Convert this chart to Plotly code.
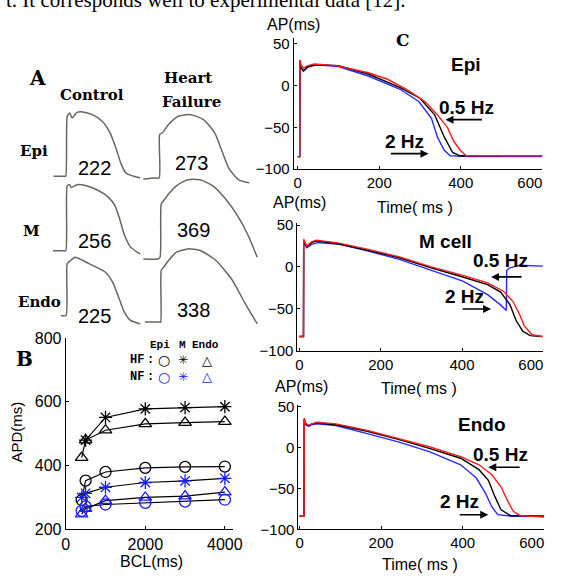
import plotly.graph_objects as go

W, H = 574, 583

def fx(p):
    return p / W

def fy(p):
    return 1 - p / H

# ---------------- Panel A: recorded action potentials (time ms, voltage mV) -------------
a_ctrl_epi_t = [-40, -5, 0, 5, 13, 21, 37, 57, 88, 120, 146, 166, 182, 198, 224, 245]
a_ctrl_epi_v = [-85, -85, -85, 24, 30, 21, 31, 32, 27, 15, -6, -35, -62, -79, -85, -88]
a_hf_epi_t = [-54, -18, -2, 0, 9, 29, 61, 102, 144, 181, 206, 227, 259, 295]
a_hf_epi_v = [-90, -88, -88, -9, -6, 9, 24, 27, 18, -6, -41, -70, -91, -97]

a_ctrl_m_t = [-42, -10, 0, 5, 13, 18, 37, 68, 109, 141, 162, 177, 193, 213, 245]
a_ctrl_m_v = [-85, -85, -85, 33, 35, 30, 35, 33, 24, 12, -3, -26, -56, -78, -91]
a_hf_m_t = [-54, -7, 1, 5, 13, 29, 55, 92, 133, 175, 217, 258, 290, 321]
a_hf_m_v = [-100, -100, -97, 0, 6, 18, 33, 44, 44, 33, 9, -23, -56, -97]

a_ctrl_endo_t = [-16, 1, 5, 16, 31, 57, 88, 130, 156, 177, 193, 213, 245]
a_ctrl_endo_v = [-85, -85, 9, 15, 21, 15, 6, -6, -26, -56, -79, -94, -100]
a_hf_endo_t = [-49, -2, 3, 5, 13, 29, 55, 92, 133, 185, 238, 279, 321]
a_hf_endo_v = [-97, -97, -97, -3, 3, 15, 30, 36, 33, 15, -20, -61, -100]

a_apd_labels = ["222", "273", "256", "369", "225", "338"]

# ---------------- Panel B: APD restitution -------------
bcl = [400, 500, 1000, 2000, 3000, 4000]
bcl_hf_m = [500, 1000, 2000, 3000, 4000]
hf_epi = [292, 353, 380, 393, 396, 397]
hf_m = [480, 551, 578, 582, 585]
hf_endo = [425, 480, 511, 531, 535, 538]
nf_epi = [258, 272, 278, 283, 287, 293]
nf_m = [300, 313, 332, 347, 352, 360]
nf_endo = [248, 265, 290, 300, 304, 317]

# ---------------- Panel C: simulated APs at 0.5, 1 and 2 Hz -------------
epi_red_t = [0, 5, 5.5, 8, 14, 25, 41, 95, 173, 219, 266, 312, 343, 367, 382, 398, 413, 450, 600]
epi_red_v = [-85, -85, 31, 25, 21, 24, 26, 24, 15.5, 8, -4, -19, -35, -50, -66, -77, -84, -84, -84]
epi_blk_t = [0, 5, 5.5, 8, 14, 25, 45, 100, 173, 250, 300, 336, 360, 380, 398, 450, 500]
epi_blk_v = [-85, -85, 30, 22, 18, 23, 25, 24, 14, -2, -15, -35, -62, -80, -84, -84, -84]
epi_blu_t = [0, 5, 5.5, 8, 14, 25, 45, 100, 173, 250, 297, 328, 343, 359, 374, 420, 600]
epi_blu_v = [-85, -85, 30, 22, 17, 22, 25, 23, 11.6, -4, -19, -39, -62, -77, -84, -85, -85]

m_red_t = [0, 10, 10.5, 14, 18, 30, 41, 91, 169, 246, 324, 402, 463, 502, 525, 541, 553, 572, 599]
m_red_v = [-83, -83, 33, 28, 25, 30, 32, 29, 21, 12, 0, -10, -19, -29, -41, -56, -70, -81, -83]
m_blk_t = [0, 10, 10.5, 14, 18, 30, 41, 91, 169, 246, 324, 402, 463, 495, 518, 533, 550, 568, 595]
m_blk_v = [-83, -83, 32, 27, 24, 29, 31, 28, 20, 11, -1, -12, -21, -30, -45, -64, -77, -82, -83]
m_blu_t = [0, 10, 10.5, 14, 18, 30, 45, 100, 169, 246, 324, 402, 463, 494, 509, 510, 518, 541, 599]
m_blu_v = [-83, -83, 30, 26, 23, 27, 29, 27, 19, 9, -4, -17, -33, -45, -52, -4, -1, 2, 1]

endo_red_t = [0, 11, 11.5, 15, 22, 30, 43, 89, 166, 242, 318, 395, 440, 471, 494, 509, 524, 540, 600]
endo_red_v = [-84, -84, 36, 30, 27, 29, 31, 29, 21, 11, 1, -11, -21, -33, -48, -64, -78, -83, -85]
endo_blk_t = [0, 11, 11.5, 15, 22, 30, 43, 89, 166, 242, 318, 395, 440, 463, 479, 494, 517, 600]
endo_blk_v = [-84, -84, 35, 29, 27, 29, 30, 28, 20, 10, -1, -13, -27, -40, -60, -76, -83, -84]
endo_blu_t = [0, 11, 11.5, 15, 22, 30, 43, 89, 166, 242, 318, 395, 433, 456, 471, 486, 520, 600]
endo_blu_v = [-84, -84, 34, 28, 26, 28, 29, 27, 17, 7, -5, -21, -37, -56, -72, -82, -84, -84]

c_xticks = [0, 200, 400, 600]
c_xticktext = ["0", "200", "400", "600\u00a0\u00a0\u00a0\u00a0\u00a0\u00a0"]
c_yticks = [-100, -50, 0, 50]
b_xticks = [0, 2000, 4000]
b_yticks = [200, 400, 600, 800]

FONT = "Arial, Liberation Sans, sans-serif"
SERIF = "DejaVu Serif, serif"
AP_COLOR = "#6b655d"

fig = go.Figure()

# ---- Panel C traces
c_sets = [
    ("x", "y", epi_blu_t, epi_blu_v, epi_blk_t, epi_blk_v, epi_red_t, epi_red_v),
    ("x2", "y2", m_blu_t, m_blu_v, m_blk_t, m_blk_v, m_red_t, m_red_v),
    ("x3", "y3", endo_blu_t, endo_blu_v, endo_blk_t, endo_blk_v, endo_red_t, endo_red_v),
]
for xa, ya, bt, bv, kt, kv, rt, rv in c_sets:
    fig.add_trace(go.Scatter(x=bt, y=bv, mode="lines", line=dict(color="#2a2aff", width=1.4),
                             xaxis=xa, yaxis=ya, showlegend=False))
    fig.add_trace(go.Scatter(x=kt, y=kv, mode="lines", line=dict(color="black", width=1.4),
                             xaxis=xa, yaxis=ya, showlegend=False))
    fig.add_trace(go.Scatter(x=rt, y=rv, mode="lines", line=dict(color="#ff1a1a", width=1.4),
                             xaxis=xa, yaxis=ya, showlegend=False))

# ---- Panel B traces
b_series = [
    (bcl, hf_epi, "circle-open", "black"),
    (bcl_hf_m, hf_m, "asterisk-open", "black"),
    (bcl, hf_endo, "triangle-up-open", "black"),
    (bcl, nf_epi, "circle-open", "#1a1aff"),
    (bcl, nf_m, "asterisk-open", "#1a1aff"),
    (bcl, nf_endo, "triangle-up-open", "#1a1aff"),
]
for xs, ys, sym, col in b_series:
    fig.add_trace(go.Scatter(x=xs, y=ys, mode="lines+markers",
                             line=dict(color="black", width=1.2),
                             marker=dict(symbol=sym, size=11, color=col, line=dict(color=col, width=1.3)),
                             xaxis="x4", yaxis="y4", showlegend=False))

# ---- Panel A traces
a_sets = [
    (a_ctrl_epi_t, a_ctrl_epi_v), (a_hf_epi_t, a_hf_epi_v),
    (a_ctrl_m_t, a_ctrl_m_v), (a_hf_m_t, a_hf_m_v),
    (a_ctrl_endo_t, a_ctrl_endo_v), (a_hf_endo_t, a_hf_endo_v),
]
for i, (t, v) in enumerate(a_sets):
    n = i + 5
    fig.add_trace(go.Scatter(x=t, y=v, mode="lines", line=dict(color=AP_COLOR, width=1.5, shape="spline", smoothing=0.6),
                             xaxis=f"x{n}", yaxis=f"y{n}", showlegend=False))

# ---- axes layout
def c_axes(xdom, ydom, xr, yr):
    xa = dict(domain=xdom, range=xr, tickvals=c_xticks, ticktext=c_xticktext, showline=True,
              linecolor="black", linewidth=1, ticks="inside", ticklen=3, tickcolor="black",
              showgrid=False, zeroline=False, ticklabeloverflow="allow",
              tickfont=dict(family=FONT, size=15, color="black"))
    ya = dict(domain=ydom, range=yr, tickvals=c_yticks, showline=True, linecolor="black",
              linewidth=1, ticks="inside", ticklen=3, tickcolor="black", showgrid=False,
              zeroline=False, tickfont=dict(family=FONT, size=15, color="black"))
    return xa, ya

layout = dict(width=W, height=H, margin=dict(l=0, r=0, t=0, b=0),
              paper_bgcolor="white", plot_bgcolor="rgba(0,0,0,0)", showlegend=False)

xa, ya = c_axes([fx(305), fx(567)], [fy(166), fy(31)], [-10, 600], [-100, 57])
xa["anchor"] = "y"; ya["anchor"] = "x"
layout["xaxis"], layout["yaxis"] = xa, ya
xa, ya = c_axes([fx(309), fx(568)], [fy(353), fy(221)], [-5, 600], [-100, 53])
xa["anchor"] = "y2"; ya["anchor"] = "x2"
layout["xaxis2"], layout["yaxis2"] = xa, ya
xa, ya = c_axes([fx(310), fx(569)], [fy(537), fy(409)], [-3, 600], [-100, 52])
xa["anchor"] = "y3"; ya["anchor"] = "x3"
layout["xaxis3"], layout["yaxis3"] = xa, ya

layout["xaxis4"] = dict(domain=[fx(65), fx(241)], range=[0, 4200], tickvals=b_xticks, anchor="y4",
                        showline=True, linecolor="black", linewidth=1, ticks="inside", ticklen=3,
                        tickcolor="black", showgrid=False, zeroline=False,
                        tickfont=dict(family=FONT, size=16, color="black"))
layout["yaxis4"] = dict(domain=[fy(537), fy(340)], range=[200, 800], tickvals=b_yticks, anchor="x4",
                        showline=True, linecolor="black", linewidth=1, ticks="inside", ticklen=3,
                        tickcolor="black", showgrid=False, zeroline=False,
                        tickfont=dict(family=FONT, size=16, color="black"))

# Panel A small axes: columns (control, heart failure), rows (Epi, M, Endo)
col_dom = [([fx(50.6), fx(148.2)], [-45, 260]), ([fx(144.8), fx(269.6)], [-60, 330])]
row_dom = [[fy(187.5), fy(96.8)], [fy(264.2), fy(173.5)], [fy(330.9), fy(240.2)]]
for i in range(6):
    n = i + 5
    r, c = divmod(i, 2)
    layout[f"xaxis{n}"] = dict(domain=col_dom[c][0], range=col_dom[c][1], visible=False, anchor=f"y{n}")
    layout[f"yaxis{n}"] = dict(domain=row_dom[r], range=[-110, 50], visible=False, anchor=f"x{n}")

fig.update_layout(**layout)

ann = []

def text(s, x, y, size, family=FONT, bold=False, color="black", angle=0, xanchor="center", yanchor="middle"):
    ann.append(dict(text=f"<b>{s}</b>" if bold else s, x=fx(x), y=fy(y), xref="paper", yref="paper",
                    showarrow=False, xanchor=xanchor, yanchor=yanchor, textangle=angle,
                    font=dict(family=family, size=size, color=color)))

def arrow(hx, hy, dx):
    ann.append(dict(text="", x=fx(hx), y=fy(hy), xref="paper", yref="paper", showarrow=True,
                    ax=dx, ay=0, arrowhead=2, arrowsize=1, arrowwidth=1.6, arrowcolor="black"))

# sentence from the page above the figure (cropped at the top, as in the source)
text("t. It corresponds well to experimental data [12].", 0, 6, 21,
     family="Liberation Serif, Times New Roman, serif", xanchor="left", yanchor="bottom")

# Panel A labels
text("A", 35, 72, 20, family=SERIF, bold=True)
text("Control", 93, 90, 15, family=SERIF, bold=True)
text("Heart", 194, 72, 15, family=SERIF, bold=True)
text("Failure", 198, 97, 15, family=SERIF, bold=True)
text("Epi", 32, 147, 15, family=SERIF, bold=True)
text("M", 29, 230, 15, family=SERIF, bold=True)
text("Endo", 37, 303, 15, family=SERIF, bold=True)
apd_pos = [(95, 165), (197, 160), (95, 240), (200, 229), (95, 317), (200, 311)]
for s, (x, y) in zip(a_apd_labels, apd_pos):
    text(s, x, y, 20)

# Panel B labels
text("B", 22, 362, 20, family=SERIF, bold=True)
text("APD(ms)", 13, 437, 15, angle=-90)
text("BCL(ms)", 155, 570, 16)
MONO = "Liberation Mono, DejaVu Sans Mono, monospace"
text("Epi", 164, 347, 11, family=MONO, bold=True)
text("M", 188, 347, 11, family=MONO, bold=True)
text("Endo", 212, 347, 11, family=MONO, bold=True)
text("HF", 140, 363, 12, family=MONO, bold=True)
text(":", 154, 363, 12, family=MONO, bold=True)
text("NF", 140, 380, 12, family=MONO, bold=True)
text(":", 154, 380, 12, family=MONO, bold=True)
sym_font = "DejaVu Sans, sans-serif"
text("○", 168, 363, 14, family=sym_font)
text("✳", 188, 363, 12, family=sym_font)
text("△", 214, 363, 13, family=sym_font)
text("○", 168, 380, 14, family=sym_font, color="#1a1aff")
text("✳", 188, 380, 12, family=sym_font, color="#1a1aff")
text("△", 214, 380, 13, family=sym_font, color="#1a1aff")

# Panel C labels
text("C", 420, 33, 17, family=SERIF, bold=True)
text("AP(ms)", 305, 17, 16)
text("Time( ms )", 433, 205, 16)
text("AP(ms)", 311, 200, 16)
text("Time( ms )", 437, 392, 16)
text("AP(ms)", 313, 390, 16)
text("Time( ms )", 438, 573, 16)

text("Epi", 487, 58, 19, bold=True)
text("0.5 Hz", 487, 102, 19, bold=True)
text("2 Hz", 422, 137, 19, bold=True)
arrow(465, 115, 38)
arrow(447, 150, -39)

text("M cell", 465, 240, 19, bold=True)
text("0.5 Hz", 523, 260, 19, bold=True)
text("2 Hz", 485, 297, 19, bold=True)
arrow(513, 277, 32)
arrow(513, 310, -30)

text("Endo", 503, 429, 19, bold=True)
text("0.5 Hz", 523, 460, 19, bold=True)
text("2 Hz", 480, 508, 19, bold=True)
arrow(510, 473, 33)
arrow(510, 522, -30)

fig.update_layout(annotations=ann)
fig.write_html("out.html", config={"displayModeBar": False},
               post_script="document.body.style.margin='0';document.body.style.overflow='hidden';")
